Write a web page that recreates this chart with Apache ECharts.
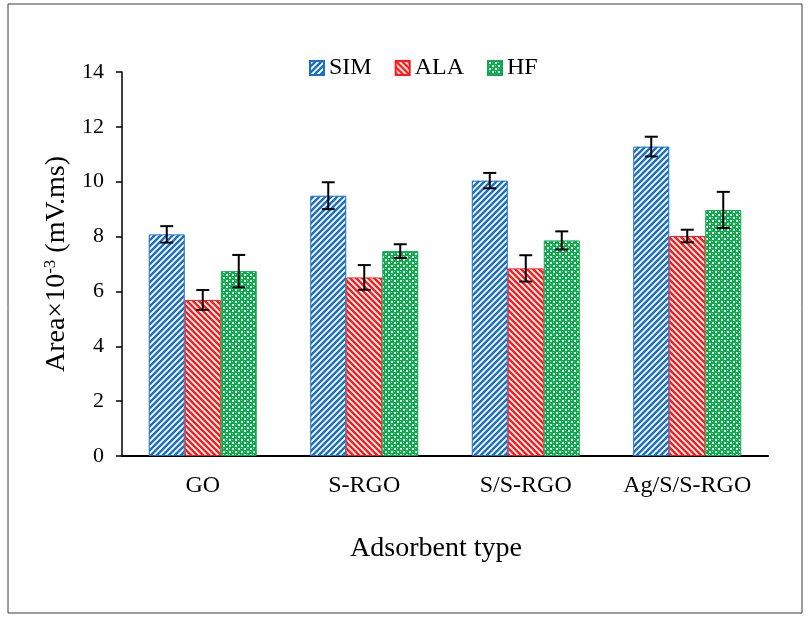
<!DOCTYPE html>
<html>
<head>
<meta charset="utf-8">
<script src="https://cdn.jsdelivr.net/npm/echarts@6/dist/echarts.min.js"></script>
<style>
  html, body { margin: 0; padding: 0; background: #ffffff; }
  #chart { width: 809px; height: 617px; }
</style>
</head>
<body>
<div id="chart"></div>
<script>
// Peak area of each analyte per adsorbent (×10^-3 mV.ms) with standard deviations
const categories = ['GO', 'S-RGO', 'S/S-RGO', 'Ag/S/S-RGO'];
const seriesNames = ['SIM', 'ALA', 'HF'];
const simValues = [8.08, 9.49, 10.04, 11.28];
const simErrors = [0.30, 0.49, 0.28, 0.36];
const alaValues = [5.69, 6.51, 6.84, 8.02];
const alaErrors = [0.36, 0.45, 0.48, 0.23];
const hfValues = [6.74, 7.47, 7.86, 8.97];
const hfErrors = [0.59, 0.25, 0.33, 0.66];
const yTicks = { min: 0, max: 14, interval: 2 };

const FONT = '"Liberation Serif", "Times New Roman", serif';
const BAR_WIDTH = 36;

// Hatch fills built on small repeating canvas tiles
function stripeTile(color, upward) {
  const p = 6;
  const c = document.createElement('canvas');
  c.width = p; c.height = p;
  const g = c.getContext('2d');
  g.fillStyle = '#ffffff';
  g.fillRect(0, 0, p, p);
  g.strokeStyle = color;
  g.lineWidth = 2.4;
  g.beginPath();
  for (let k = -1; k <= 1; k++) {
    if (upward) {
      g.moveTo(k * p - 1, p + 1); g.lineTo(k * p + p + 1, -1);
    } else {
      g.moveTo(k * p - 1, -1); g.lineTo(k * p + p + 1, p + 1);
    }
  }
  g.stroke();
  return c;
}
function gridTile(color) {
  const p = 6;
  const c = document.createElement('canvas');
  c.width = p; c.height = p;
  const g = c.getContext('2d');
  g.fillStyle = color;
  g.fillRect(0, 0, p, p);
  g.fillStyle = 'rgba(255,255,255,0.9)';
  g.fillRect(1, 1, 2, 2);
  g.fillRect(4, 4, 2, 2);
  g.fillStyle = 'rgba(255,255,255,0.45)';
  g.fillRect(4, 1, 1, 1);
  g.fillRect(1, 4, 1, 1);
  return c;
}

const baseColors = ['#1a6fc4', '#ff1a1a', '#12a850'];
const fills = [
  { image: stripeTile(baseColors[0], true), repeat: 'repeat' },
  { image: stripeTile(baseColors[1], false), repeat: 'repeat' },
  { image: gridTile(baseColors[2]), repeat: 'repeat' }
];

const valueSets = [simValues, alaValues, hfValues];
const errorSets = [simErrors, alaErrors, hfErrors];

const barSeries = seriesNames.map((name, i) => ({
  name: name,
  type: 'bar',
  barWidth: BAR_WIDTH,
  barGap: '0%',
  data: valueSets[i],
  itemStyle: { color: fills[i], borderColor: baseColors[i], borderWidth: 1 },
  emphasis: { disabled: true },
  z: 2
}));

const errorSeries = seriesNames.map((name, i) => ({
  type: 'custom',
  name: name + ' SD',
  z: 5,
  silent: true,
  data: categories.map((_, j) => [j, valueSets[i][j] - errorSets[i][j], valueSets[i][j] + errorSets[i][j]]),
  encode: { x: 0, y: [1, 2] },
  renderItem: function (params, api) {
    const offset = (i - (seriesNames.length - 1) / 2) * BAR_WIDTH;
    const lo = api.coord([api.value(0), api.value(1)]);
    const hi = api.coord([api.value(0), api.value(2)]);
    const x = lo[0] + offset;
    const cap = 6.5;
    const style = { stroke: '#000000', lineWidth: 2 };
    return {
      type: 'group',
      children: [
        { type: 'line', shape: { x1: x, y1: lo[1], x2: x, y2: hi[1] }, style: style },
        { type: 'line', shape: { x1: x - cap, y1: lo[1], x2: x + cap, y2: lo[1] }, style: style },
        { type: 'line', shape: { x1: x - cap, y1: hi[1], x2: x + cap, y2: hi[1] }, style: style }
      ]
    };
  }
}));

const chart = echarts.init(document.getElementById('chart'), null, { renderer: 'canvas' });
chart.setOption({
  animation: false,
  backgroundColor: '#ffffff',
  graphic: [{
    type: 'rect',
    shape: { x: 8, y: 4, width: 794, height: 609 },
    style: { fill: 'none', stroke: '#3a3a3a', lineWidth: 1 },
    z: 0
  }],
  legend: {
    data: seriesNames,
    left: 309,
    top: 56,
    padding: 0,
    icon: 'rect',
    itemWidth: 14,
    itemHeight: 14,
    itemGap: 23,
    textStyle: { fontFamily: FONT, fontSize: 24, color: '#000000' }
  },
  grid: { left: 122, right: 41, top: 72, bottom: 161, containLabel: false },
  xAxis: {
    type: 'category',
    data: categories,
    axisLine: { lineStyle: { color: '#000000', width: 2 } },
    axisTick: { show: false },
    axisLabel: { interval: 0, fontFamily: FONT, fontSize: 24, color: '#000000', margin: 18 },
    name: 'Adsorbent type',
    nameLocation: 'middle',
    nameGap: 79,
    nameTextStyle: { fontFamily: FONT, fontSize: 28, color: '#000000', padding: [0, 18, 0, 0] }
  },
  yAxis: {
    type: 'value',
    min: yTicks.min,
    max: yTicks.max,
    interval: yTicks.interval,
    axisLine: { show: true, lineStyle: { color: '#000000', width: 1.5 } },
    axisTick: { show: true, inside: false, length: 6, lineStyle: { color: '#000000', width: 1.5 } },
    splitLine: { show: false },
    axisLabel: { fontFamily: FONT, fontSize: 22, color: '#000000', margin: 18 },
    name: '{a|Area×10}{s|-3}{a| (mV.ms)}',
    nameLocation: 'middle',
    nameGap: 50,
    nameTextStyle: {
      fontFamily: FONT,
      fontSize: 28,
      color: '#000000',
      rich: {
        a: { fontFamily: FONT, fontSize: 28, color: '#000000', lineHeight: 30 },
        s: { fontFamily: FONT, fontSize: 17, color: '#000000', lineHeight: 30, verticalAlign: 'top' }
      }
    }
  },
  series: barSeries.concat(errorSeries)
});
</script>
</body>
</html>
